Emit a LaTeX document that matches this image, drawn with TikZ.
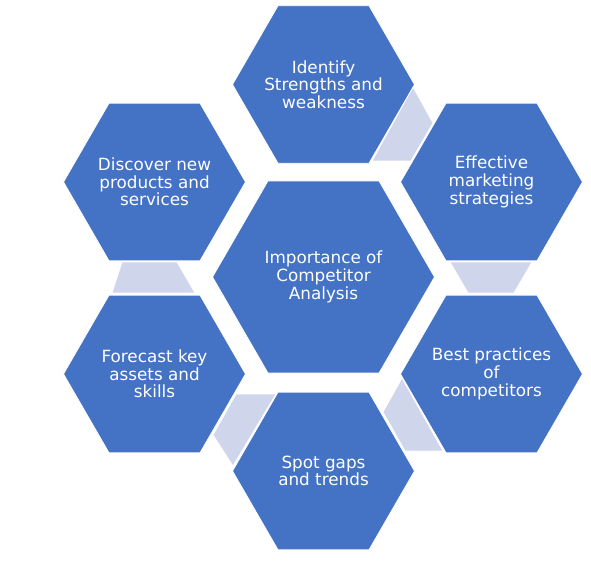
\documentclass[tikz,border=0pt]{standalone}
\usepackage{fontspec}
\setmainfont{DejaVu Sans}
\usetikzlibrary{shapes.geometric}
\definecolor{hexblue}{HTML}{4472C4}
\definecolor{lav}{HTML}{CFD5EA}
\begin{document}
\begin{tikzpicture}[x=1pt,y=-1pt,
  hexo/.style={regular polygon, regular polygon sides=6, fill=hexblue, draw=white, line width=0.8pt, inner sep=0pt, minimum size=182pt},
  hexbig/.style={hexo, minimum size=222pt},
  lbl/.style={text=white, align=center, font=\fontsize{16.8}{17.7}\selectfont, inner sep=0pt},
  link/.style={fill=lav, draw=white, line width=0.8pt}]
\useasboundingbox (0,0) rectangle (591,561);
% connectors
\fill[link] (413,87) -- (433,123) -- (411,161) -- (372,161) -- cycle;
\fill[link] (450,262) -- (532,262) -- (514,293) -- (468,293) -- cycle;
\fill[link] (402,378) -- (383,412) -- (405,451) -- (443,451) -- cycle;
\fill[link] (236,394) -- (276,394) -- (233,466) -- (213,435) -- cycle;
\fill[link] (122,262) -- (177,262) -- (195,293) -- (112,293) -- cycle;
% hexagons
\node[hexbig] (ctr) at (323.5,277) {};
\node[hexo] (idf) at (323.5,84.5) {};
\node[hexo] (eff) at (491.5,182) {};
\node[hexo] (bst) at (491.5,374) {};
\node[hexo] (spt) at (323.5,471) {};
\node[hexo] (fct) at (154.5,374) {};
\node[hexo] (dsc) at (154.5,182) {};
% labels
\node[lbl] (tctr) at (ctr) {Importance of\\Competitor\\Analysis};
\node[lbl] (tidf) at (idf) {Identify\\Strengths and\\weakness};
\node[lbl] (teff) at (eff) {Effective\\marketing\\strategies};
\node[lbl] (tbst) at (bst) {Best practices\\of\\competitors};
\node[lbl] (tspt) at (spt) {Spot gaps\\and trends};
\node[lbl] (tfct) at (fct) {Forecast key\\assets and\\skills};
\node[lbl] (tdsc) at (dsc) {Discover new\\products and\\services};
\end{tikzpicture}
\end{document}
